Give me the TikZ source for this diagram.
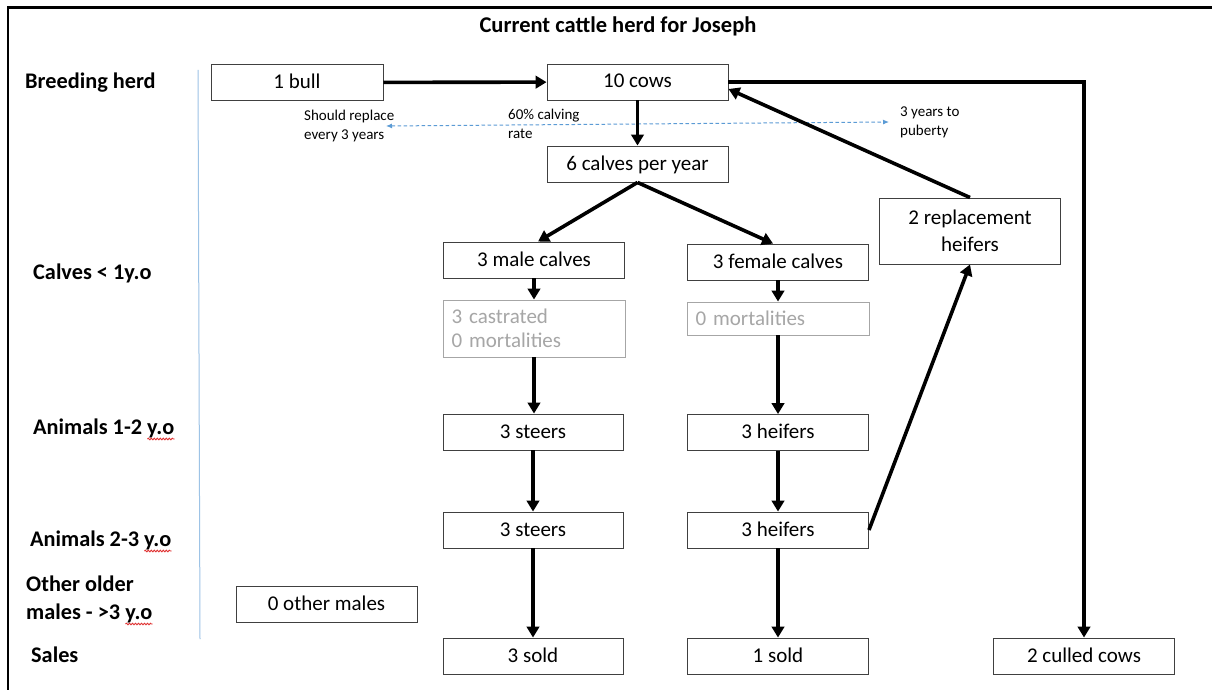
\documentclass[tikz,border=0pt]{standalone}
\usepackage{fontspec}
\setmainfont{Carlito}
\usetikzlibrary{arrows.meta,decorations.pathmorphing}
\definecolor{boxline}{HTML}{404040}
\definecolor{ghost}{HTML}{A6A6A6}
\definecolor{rulerblue}{HTML}{9DC3E6}
\definecolor{noteblue}{HTML}{5B9BD5}
\definecolor{spellred}{HTML}{E03030}
\newlength\yolen

\begin{document}
\settowidth{\yolen}{\fontsize{22.3}{24}\selectfont\bfseries y.o}%
\begin{tikzpicture}[x=1pt,y=-1pt,
  boxbase/.style={draw=boxline,line width=0.9pt,minimum width=181pt,inner sep=0pt,
    font=\fontsize{21}{26.5}\selectfont,text=black},
  box/.style={boxbase,minimum height=36pt,text height=12pt,text depth=0pt},
  greybox/.style={draw=ghost,line width=0.9pt,text=ghost,minimum width=182pt,
    inner xsep=8.5pt,inner ysep=0pt,text width=165pt,align=left,
    font=\fontsize{21}{23.5}\selectfont},
  rowlabel/.style={anchor=base west,inner sep=0pt,font=\fontsize{22.3}{24}\selectfont\bfseries},
  note/.style={anchor=north west,inner sep=0pt,align=left,font=\fontsize{15}{19}\selectfont},
  flow/.style={line width=3.6pt,-{Triangle[length=11pt,width=12.5pt]}},
  squiggle/.style={draw=spellred,line width=0.9pt,decorate,
    decoration={snake,amplitude=0.8pt,segment length=3pt}},
]
\useasboundingbox (0,0) rectangle (1212,690);
\fill[white] (0,0) rectangle (1212,690);

% frame and the blue divider between row labels and the chart
\draw[line width=2.2pt] (8,690) -- (8,7.5) -- (1212,7.5);
\draw[rulerblue,line width=1pt] (198,70) -- (200,639);

% title
\node[anchor=base,inner sep=0pt,font=\fontsize{22.5}{24}\selectfont\bfseries] (title) at (618,33)
  {Current cattle herd for Joseph};

% row labels
\node[rowlabel] (lbreed)  at (25,89)  {Breeding herd};
\node[rowlabel] (lcalves) at (33,279) {Calves < 1y.o};
\node[rowlabel] (lan12)   at (33,434) {Animals 1-2 y.o};
\node[rowlabel] (lan23)   at (30,546) {Animals 2-3 y.o};
\node[rowlabel] (lolder)  at (26,591) {Other older};
\node[rowlabel] (lmales)  at (26,619) {males - >3 y.o};
\node[rowlabel] (lsales)  at (31,662) {Sales};
% spell-check marks under "y.o"
\draw[squiggle] ([xshift=-\yolen,yshift=-5pt]lan12.base east) -- ([yshift=-5pt]lan12.base east);
\draw[squiggle] ([xshift=-\yolen,yshift=-5pt]lan23.base east) -- ([yshift=-5pt]lan23.base east);
\draw[squiggle] ([xshift=-\yolen,yshift=-5pt]lmales.base east) -- ([yshift=-5pt]lmales.base east);

% herd boxes
\node[box,minimum width=172pt] (bull) at (297,82.5) {1 bull};
\node[box] (cows)   at (637.5,82)  {10 cows};
\node[box] (calves) at (637.5,164) {6 calves per year};
\node[box] (male)   at (534,260)   {3 male calves};
\node[box] (female) at (778,262)   {3 female calves};
\node[boxbase,minimum height=66pt,align=center] (repl) at (970,231) {2 replacement\\heifers};
\node[greybox,minimum height=57pt] (castr) at (534,328.5) {3 castrated\\0 mortalities};
\node[greybox,minimum height=33pt] (mort)  at (778,318.5) {0 mortalities};
\node[box,minimum width=180pt] (steer1) at (533,432)   {3 steers};
\node[box] (heif1)  at (778,432.5) {3 heifers};
\node[box,minimum width=180pt] (steer2) at (533,530)   {3 steers};
\node[box] (heif2)  at (778,530)   {3 heifers};
\node[box] (other)  at (326.5,604) {0 other males};
\node[box,minimum width=180pt] (sold3)  at (533,656)   {3 sold};
\node[box] (sold1)  at (778,656)   {1 sold};
\node[box] (culled) at (1084,656)  {2 culled cows};

% notes and the dashed time-span arrow
\node[note] (nbull)  at (304,110) {Should replace\\every 3 years};
\node[note] (nrate)  at (508,109) {60\% calving\\rate};
\node[note] (npub)   at (900,107) {3 years to\\puberty};
\coordinate (dl) at (386,126);
\coordinate (dr) at (889,122);
\draw[noteblue,line width=1pt,dash pattern=on 3.5pt off 2.5pt,
  {Latex[length=6pt,width=5pt]}-{Latex[length=6pt,width=5pt]}] (dl) -- (dr);

% flows
\draw[flow] (bull) -- (cows);
\draw[flow] (cows) -- (calves);
\draw[flow] (calves.south) -- ([xshift=4pt]male.north);
\draw[flow] (calves.south) -- ([xshift=-5pt]female.north);
\draw[flow] (male) -- (castr);
\draw[flow] (female) -- (mort);
\draw[flow] (castr.south) -- (castr.south |- steer1.north);
\draw[flow] (mort) -- (heif1);
\draw[flow] (steer1) -- (steer2);
\draw[flow] (heif1) -- (heif2);
\draw[flow] (steer2) -- (sold3);
\draw[flow] (heif2) -- (sold1);
\draw[flow] (heif2.east) -- (repl.south);
\draw[flow] (repl.north) -- ([yshift=-7pt]cows.east);
\draw[flow] (cows.east) -| (culled.north);
\end{tikzpicture}
\end{document}
